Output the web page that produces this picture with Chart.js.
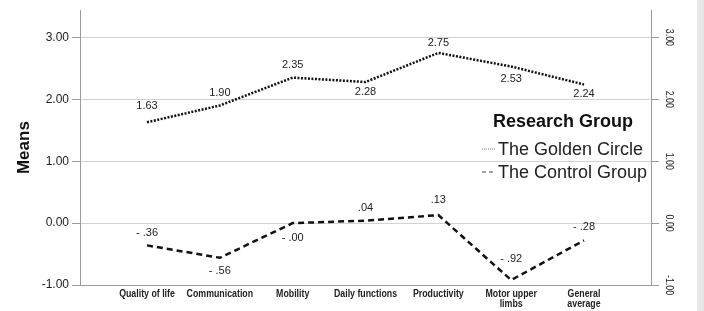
<!DOCTYPE html>
<html lang="en">
<head>
<meta charset="UTF-8"/>
<title>Research Group Means</title>
<style>
  body { margin: 0; padding: 0; background: #e7e7e9; }
  #wrap { position: absolute; left: 0; top: 0; width: 697px; height: 311px; background: #fff; }
</style>
</head>
<body>
<div id="wrap"><canvas id="chart" width="697" height="311"></canvas></div>

<script src="https://cdn.jsdelivr.net/npm/chart.js"></script>
<script>
// data
const categories = ["Quality of life", "Communication", "Mobility", "Daily functions",
  "Productivity", ["Motor upper", "limbs"], ["General", "average"]];
const goldenCircle = [1.63, 1.90, 2.35, 2.28, 2.75, 2.53, 2.24];
const controlGroup = [-0.36, -0.56, -0.00, 0.04, 0.13, -0.92, -0.28];
const yTicks = [-1, 0, 1, 2, 3];
const seriesNames = ["The Golden Circle", "The Control Group"];

// where each value label sits relative to its point (px)
const goldenLabelDy = [-16, -13, -13, 10, -10, 12, 9];
const controlLabelDy = [-12, 13, 15, -13, -15, -21, -13];

const INK = "#222";
const AXIS = "#9a9a9a";
const GRID = "#d2d2d2";

function fmt(v) {
  const neg = v < 0 || Object.is(v, -0);
  const a = Math.abs(v).toFixed(2);
  const s = a.startsWith("0") ? a.slice(1) : a;
  return neg ? "- " + s : s;
}

const valueLabels = {
  id: "valueLabels",
  afterDatasetsDraw(chart) {
    const ctx = chart.ctx;
    ctx.save();
    ctx.font = "11px 'Liberation Sans', Arial, sans-serif";
    ctx.fillStyle = INK;
    ctx.textAlign = "center";
    ctx.textBaseline = "middle";
    chart.data.datasets.forEach((ds, di) => {
      const meta = chart.getDatasetMeta(di);
      meta.data.forEach((pt, i) => {
        const raw = di === 0 ? goldenCircle[i] : controlGroup[i];
        ctx.fillText(fmt(raw), pt.x, pt.y + ds.labelDy[i]);
      });
    });
    ctx.restore();
  }
};

// narrow text: squeeze horizontally since no condensed face is around
function narrowText(ctx, txt, x, y, sx) {
  ctx.save();
  ctx.translate(x, y);
  ctx.scale(sx, 1);
  ctx.fillText(txt, 0, 0);
  ctx.restore();
}

const sideStuff = {
  id: "sideStuff",
  afterDraw(chart) {
    const ctx = chart.ctx;
    const r = chart.scales.y2;
    const xs = chart.scales.x;
    ctx.save();
    ctx.fillStyle = INK;
    ctx.textAlign = "center";
    ctx.textBaseline = "middle";

    // category labels
    ctx.font = "bold 10px 'Liberation Sans', Arial, sans-serif";
    categories.forEach((c, i) => {
      const lines = Array.isArray(c) ? c : [c];
      const px = xs.getPixelForValue(i);
      lines.forEach((t, k) => narrowText(ctx, t, px, xs.top + 9 + k * 10, 0.88));
    });

    // right axis labels, rotated clockwise
    ctx.font = "10px 'Liberation Sans', Arial, sans-serif";
    yTicks.forEach(v => {
      ctx.save();
      ctx.translate(r.left + 18, r.getPixelForValue(v));
      ctx.rotate(Math.PI / 2);
      ctx.scale(0.88, 1);
      ctx.fillText(v.toFixed(2), 0, 0);
      ctx.restore();
    });

    // legend
    const lx = 482;
    ctx.textAlign = "left";
    ctx.textBaseline = "alphabetic";
    ctx.fillStyle = "#111";
    ctx.font = "bold 18px 'Liberation Sans', Arial, sans-serif";
    ctx.fillText("Research Group", 493, 127);
    ctx.fillStyle = INK;
    ctx.font = "18px 'Liberation Sans', Arial, sans-serif";
    const rows = [155, 178];
    chart.data.datasets.forEach((ds, di) => {
      ctx.fillText(ds.label, 498, rows[di]);
      ctx.beginPath();
      ctx.setLineDash(di === 0 ? [1, 1] : [4, 3]);
      ctx.strokeStyle = di === 0 ? "#777" : "#444";
      ctx.lineWidth = di === 0 ? 1 : 1.2;
      ctx.moveTo(lx, rows[di] - 6);
      ctx.lineTo(lx + 13, rows[di] - 6);
      ctx.stroke();
    });
    ctx.restore();
  }
};

const yScale = {
  type: "linear",
  min: -1,
  max: 3.44,
  afterBuildTicks: s => { s.ticks = yTicks.map(v => ({ value: v })); }
};

new Chart(document.getElementById("chart"), {
  type: "line",
  data: {
    datasets: [
      {
        label: seriesNames[0],
        data: goldenCircle.map((v, i) => ({ x: i, y: v })),
        borderColor: "#111",
        borderWidth: 2.5,
        borderDash: [2, 1.5],
        pointRadius: 0,
        tension: 0,
        labelDy: goldenLabelDy
      },
      {
        label: seriesNames[1],
        data: controlGroup.map((v, i) => ({ x: i, y: v })),
        borderColor: "#111",
        borderWidth: 2.5,
        borderDash: [6, 4],
        pointRadius: 0,
        tension: 0,
        labelDy: controlLabelDy
      }
    ]
  },
  options: {
    responsive: false,
    animation: false,
    layout: { padding: { top: 10, left: 0, right: 0, bottom: 0 } },
    plugins: { legend: { display: false }, tooltip: { enabled: false } },
    scales: {
      x: {
        type: "linear",
        position: "bottom",
        min: -0.92,
        max: 6.92,
        afterBuildTicks: s => { s.ticks = categories.map((_, i) => ({ value: i })); },
        afterFit: s => { s.height = 26; },
        grid: { display: false, drawTicks: false },
        border: { color: AXIS, width: 1 },
        ticks: { autoSkip: false, maxRotation: 0, color: "rgba(0,0,0,0)", font: { size: 1 } }
      },
      y: {
        ...yScale,
        position: "left",
        afterFit: s => { s.width = 80; },
        grid: { color: GRID, tickColor: AXIS, tickLength: 8, lineWidth: 1 },
        border: { color: AXIS, width: 1 },
        ticks: {
          padding: 3,
          color: INK,
          font: { family: "'Liberation Sans', Arial, sans-serif", size: 12 },
          callback: v => v.toFixed(2)
        },
        title: {
          display: true,
          text: "Means",
          color: "#111",
          padding: { top: 14, bottom: 0 },
          font: { family: "'Liberation Sans', Arial, sans-serif", size: 17, weight: "bold" }
        }
      },
      y2: {
        ...yScale,
        position: "right",
        afterFit: s => { s.width = 46; },
        grid: { drawOnChartArea: false, tickColor: AXIS, tickLength: 8 },
        border: { color: AXIS, width: 1 },
        ticks: { color: "rgba(0,0,0,0)", padding: 0, font: { size: 1 } }
      }
    }
  },
  plugins: [valueLabels, sideStuff]
});
</script>
</body>
</html>
